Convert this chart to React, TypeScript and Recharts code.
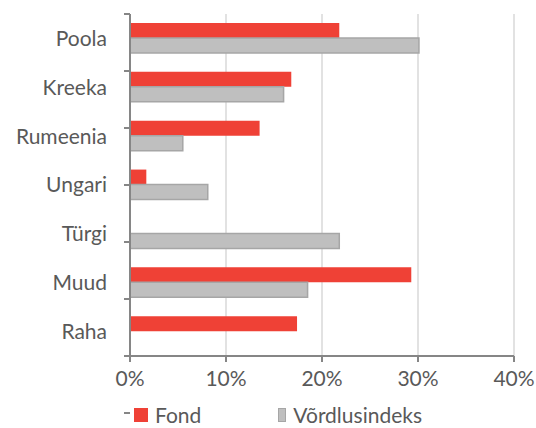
import {
  BarChart,
  Bar,
  XAxis,
  YAxis,
  CartesianGrid,
  Legend,
} from "recharts";

const categories = ["Poola", "Kreeka", "Rumeenia", "Ungari", "Türgi", "Muud", "Raha"];
const fondValues = [21.8, 16.8, 13.5, 1.7, 0, 29.3, 17.4];
const indexValues = [30.1, 16.0, 5.5, 8.1, 21.8, 18.5, 0];
const xTicks = [0, 10, 20, 30, 40];
const boundaryTicks = [0, 1, 2, 3, 4, 5, 6, 7];

const data = categories.map((name, i) => ({
  name,
  fond: fondValues[i],
  index: indexValues[i],
}));

const FONT = "Lato, 'Open Sans', sans-serif";
const TEXT = "#595959";
const AXIS = "#868686";

function LegendContent({ payload }: any) {
  return (
    <div style={{ display: "flex", paddingLeft: 134, paddingTop: 4, fontFamily: FONT, fontSize: 21, color: TEXT }}>
      {(payload ?? []).map((p: any) => (
        <div key={p.value} style={{ display: "flex", alignItems: "center", width: 144 }}>
          <span
            style={{
              display: "inline-block",
              width: 12,
              height: 12,
              background: p.color,
              border: p.value === "Võrdlusindeks" ? "1px solid #a6a6a6" : "1px solid #ef4136",
              marginRight: 7,
            }}
          />
          <span>{p.value}</span>
        </div>
      ))}
    </div>
  );
}

// empty label so only the tick marks at category boundaries show
const NoLabel = () => <g />;

export default function App() {
  return (
    <div style={{ position: "absolute", left: 0, top: 0, width: 536, height: 428, background: "#fff" }}>
      <BarChart
        width={536}
        height={428}
        data={data}
        layout="vertical"
        barGap={0}
        margin={{ top: 14, right: 22, left: 0, bottom: 0 }}
      >
        <CartesianGrid horizontal={false} stroke="#d9d9d9" strokeWidth={1.5} />
        <XAxis
          type="number"
          domain={[0, 40]}
          ticks={xTicks}
          tickFormatter={(v) => `${v}%`}
          axisLine={{ stroke: AXIS, strokeWidth: 2 }}
          tickLine={{ stroke: AXIS, strokeWidth: 2 }}
          tickSize={6}
          tickMargin={9}
          height={42}
          tick={{ fill: TEXT, fontSize: 21, fontFamily: FONT }}
        />
        <YAxis
          yAxisId="bounds"
          type="number"
          domain={[0, 7]}
          ticks={boundaryTicks}
          interval={0}
          tick={NoLabel}
          width={6}
          axisLine={{ stroke: AXIS, strokeWidth: 2 }}
          tickLine={{ stroke: AXIS, strokeWidth: 2 }}
          tickSize={6}
        />
        <YAxis
          yAxisId="cat"
          type="category"
          dataKey="name"
          width={124}
          axisLine={false}
          tickLine={false}
          tickSize={6}
          tickMargin={11}
          tick={{ fill: TEXT, fontSize: 21, fontFamily: FONT }}
        />
        <Legend verticalAlign="bottom" height={30} content={<LegendContent />} />
        <Bar
          yAxisId="cat"
          dataKey="fond"
          name="Fond"
          fill="#ef4136"
          barSize={15}
          isAnimationActive={false}
        />
        <Bar
          yAxisId="cat"
          dataKey="index"
          name="Võrdlusindeks"
          fill="#bfbfbf"
          stroke="#a6a6a6"
          strokeWidth={1.5}
          barSize={15}
          isAnimationActive={false}
        />
      </BarChart>
    </div>
  );
}
